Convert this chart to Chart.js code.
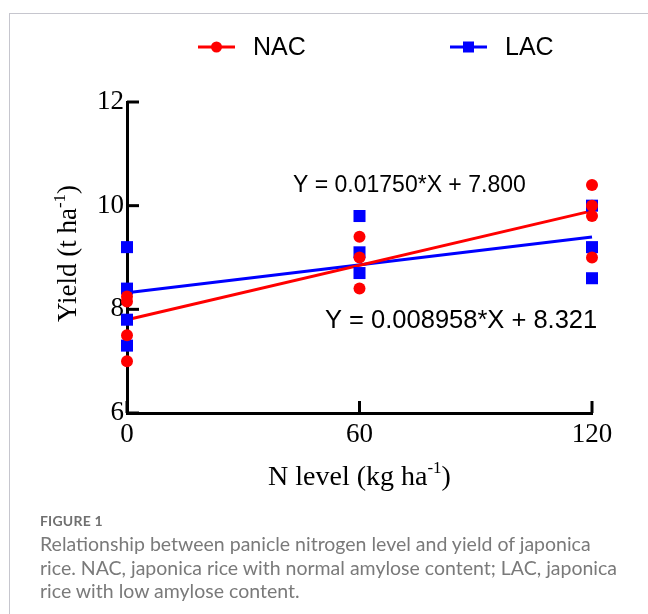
<!DOCTYPE html>
<html><head><meta charset="utf-8">
<script src="https://cdn.jsdelivr.net/npm/chart.js@4.4.0/dist/chart.umd.min.js"></script>
<style>
html,body{margin:0;padding:0;background:#fff;width:648px;height:614px;overflow:hidden;}
#frame{position:absolute;left:9px;top:13px;width:800px;height:800px;border-left:1.5px solid #c6c6ce;border-top:1.5px solid #c6c6ce;}
#wrap{position:absolute;left:0;top:0;width:648px;height:614px;}
#cap{position:absolute;left:40px;top:511px;font-family:Lato,"Open Sans",sans-serif;color:#7a7a7a;}
#cap .fig{font-size:14px;font-weight:bold;letter-spacing:0.2px;line-height:20px;color:#707070;}
#cap .txt{font-size:19.5px;line-height:23.5px;margin-top:1px;white-space:nowrap;}
</style></head>
<body>
<div id="frame"></div>
<div id="wrap"><canvas id="c" width="648" height="614"></canvas></div>
<div id="cap"><div class="fig">FIGURE 1</div>
<div class="txt">Relationship between panicle nitrogen level and yield of japonica<br>rice. NAC, japonica rice with normal amylose content; LAC, japonica<br>rice with low amylose content.</div></div>
<script>
// ---- data ----
const nLevels = [0, 60, 120];
const nacX = [0, 0, 0, 0, 60, 60, 60, 120, 120, 120, 120];
const nacY = [8.25, 8.15, 7.5, 7.0, 9.4, 9.0, 8.4, 10.4, 10.0, 9.8, 9.0];
const lacX = [0, 0, 0, 0, 60, 60, 60, 120, 120, 120];
const lacY = [9.2, 8.4, 7.8, 7.3, 9.8, 9.1, 8.7, 10.0, 9.2, 8.6];
const seriesNames = ["NAC", "LAC"];
const nacFit = {slope: 0.01750, intercept: 7.800, label: "Y = 0.01750*X + 7.800"};
const lacFit = {slope: 0.008958, intercept: 8.321, label: "Y = 0.008958*X + 8.321"};
const yTicks = [6, 8, 10, 12];
const xTicks = [0, 60, 120];

const RED = "#ff0000", BLUE = "#0000ff";
const pts = (xs, ys) => xs.map((x, i) => ({x, y: ys[i]}));
const fitLine = f => [nLevels[0], nLevels[nLevels.length-1]].map(x => ({x, y: f.intercept + f.slope * x}));

const SERIF = '"Liberation Serif","Times New Roman",serif';
const SANS = '"Liberation Sans",Arial,sans-serif';

function drawTitle(ctx, main, sup, close, size) {
  ctx.font = size + 'px ' + SERIF;
  const w1 = ctx.measureText(main).width;
  ctx.font = Math.round(size*0.62) + 'px ' + SERIF;
  const w2 = ctx.measureText(sup).width;
  ctx.font = size + 'px ' + SERIF;
  const w3 = ctx.measureText(close).width;
  const tot = w1 + w2 + w3;
  let x = -tot/2;
  ctx.textAlign = 'left'; ctx.textBaseline = 'alphabetic';
  ctx.fillText(main, x, size*0.33);
  x += w1;
  ctx.font = Math.round(size*0.62) + 'px ' + SERIF;
  ctx.fillText(sup, x, size*0.33 - size*0.42);
  x += w2;
  ctx.font = size + 'px ' + SERIF;
  ctx.fillText(close, x, size*0.33);
}

const decor = {
  id: 'decor',
  beforeDatasetsDraw(chart) {
    const {ctx, scales: {x, y}} = chart;
    ctx.save();
    ctx.strokeStyle = '#000'; ctx.lineWidth = 3; ctx.lineCap = 'butt';
    yTicks.forEach(v => {
      const py = y.getPixelForValue(v);
      ctx.beginPath(); ctx.moveTo(x.left, py); ctx.lineTo(x.left + 12, py); ctx.stroke();
    });
    xTicks.forEach(v => {
      const px = x.getPixelForValue(v);
      ctx.beginPath(); ctx.moveTo(px, y.bottom); ctx.lineTo(px, y.bottom - 12); ctx.stroke();
    });
    ctx.restore();
  },
  afterDraw(chart) {
    const {ctx, chartArea: ca} = chart;
    ctx.save();
    ctx.fillStyle = '#000';
    ctx.save();
    ctx.translate(ca.left - 60, (ca.top + ca.bottom)/2 - 4);
    ctx.rotate(-Math.PI/2);
    drawTitle(ctx, 'Yield (t ha', '-1', ')', 27);
    ctx.restore();
    ctx.save();
    ctx.translate((ca.left + ca.right)/2, ca.bottom + 63);
    drawTitle(ctx, 'N level (kg ha', '-1', ')', 28);
    ctx.restore();
    // equations
    ctx.textBaseline = 'middle'; ctx.textAlign = 'left';
    ctx.font = '23px ' + SANS;
    ctx.fillText(nacFit.label, 293, 186);
    ctx.font = '25.5px ' + SANS;
    ctx.fillText(lacFit.label, 325, 321);
    // legend
    const items = [
      {name: seriesNames[0], color: RED, shape: 'circle', x0: 198},
      {name: seriesNames[1], color: BLUE, shape: 'square', x0: 450}
    ];
    items.forEach(it => {
      const ly = 47;
      ctx.strokeStyle = it.color; ctx.fillStyle = it.color; ctx.lineWidth = 3;
      ctx.beginPath(); ctx.moveTo(it.x0, ly); ctx.lineTo(it.x0 + 37, ly); ctx.stroke();
      const cx = it.x0 + 18.5;
      if (it.shape === 'circle') { ctx.beginPath(); ctx.arc(cx, ly, 5.5, 0, Math.PI*2); ctx.fill(); }
      else ctx.fillRect(cx - 5.5, ly - 5.5, 11, 11);
      ctx.fillStyle = '#000';
      ctx.font = '25px ' + SANS;
      ctx.textBaseline = 'middle';
      ctx.fillText(it.name, it.x0 + 55, ly + 1);
    });
    ctx.restore();
  }
};

new Chart(document.getElementById('c'), {
  type: 'scatter',
  data: {
    datasets: [
      {label: seriesNames[0], data: pts(nacX, nacY), pointStyle: 'circle', pointRadius: 6, pointHoverRadius: 6,
       backgroundColor: RED, borderColor: RED, borderWidth: 0, order: 0, clip: false},
      {label: seriesNames[1], data: pts(lacX, lacY), pointStyle: 'rect', pointRadius: 8.5, pointHoverRadius: 8.5,
       backgroundColor: BLUE, borderColor: BLUE, borderWidth: 0, order: 1, clip: false},
      {label: 'NAC fit', data: fitLine(nacFit), showLine: true, pointRadius: 0, borderColor: RED, borderWidth: 3, order: 2, clip: false},
      {label: 'LAC fit', data: fitLine(lacFit), showLine: true, pointRadius: 0, borderColor: BLUE, borderWidth: 3, order: 3, clip: false}
    ]
  },
  options: {
    responsive: false, animation: false, devicePixelRatio: 1,
    layout: {padding: {left: 0, right: 56, top: 102, bottom: 0}},
    plugins: {legend: {display: false}, tooltip: {enabled: false}},
    scales: {
      x: {
        type: 'linear', min: 0, max: 120,
        afterBuildTicks: s => { s.ticks = xTicks.map(v => ({value: v})); },
        afterFit: s => { s.height = 201; },
        grid: {display: false, drawTicks: false},
        border: {display: true, color: '#000', width: 3},
        ticks: {color: '#000', font: {family: SERIF, size: 27}, padding: 6, maxRotation: 0}
      },
      y: {
        type: 'linear', min: 6, max: 12,
        afterBuildTicks: s => { s.ticks = yTicks.map(v => ({value: v})); },
        afterFit: s => { s.width = 127; },
        grid: {display: false, drawTicks: false},
        border: {display: true, color: '#000', width: 3},
        ticks: {color: '#000', font: {family: SERIF, size: 27}, padding: 3}
      }
    }
  },
  plugins: [decor]
});
</script>
</body></html>
